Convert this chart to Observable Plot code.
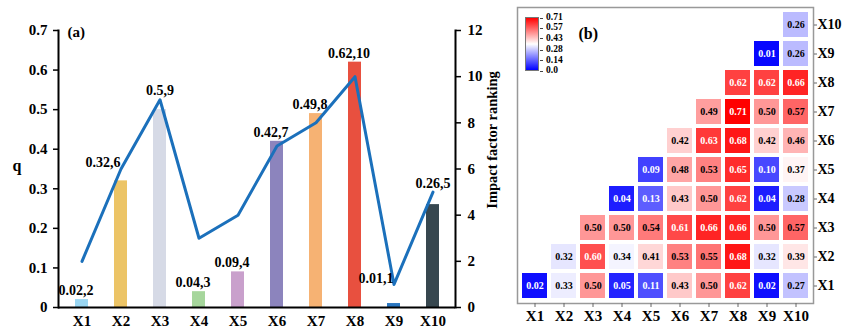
<!DOCTYPE html>
<html>
<head>
<meta charset="utf-8">
<script src="https://cdn.jsdelivr.net/npm/d3@7"></script>
<script src="https://cdn.jsdelivr.net/npm/@observablehq/plot@0.6"></script>
<style>
  body { margin: 0; background: white; }
  #wrap { position: relative; width: 842px; height: 329px; overflow: hidden; background: white;
          font-family: 'Liberation Serif', 'Times New Roman', serif; font-weight: bold; }
  #left { position: absolute; left: 0; top: 0; }
  #right { position: absolute; left: 500px; top: 0; }
  .lg { position: absolute; font-size: 9.5px; line-height: 1; color: black; }
</style>
</head>
<body>
<div id="wrap">
  <div id="left"></div>
  <div id="right"></div>
</div>
<script>
// ---------- data ----------
const names = ["X1", "X2", "X3", "X4", "X5", "X6", "X7", "X8", "X9", "X10"];
const qValues = [0.02, 0.32, 0.5, 0.04, 0.09, 0.42, 0.49, 0.62, 0.01, 0.26];
const rankValues = [2, 6, 9, 3, 4, 7, 8, 10, 1, 5];
const barColors = ["#9ad6f2", "#ecc466", "#d6dae6", "#a6d69c", "#c9a0cc",
                   "#8c84bd", "#f6b273", "#e8503f", "#2a76c0", "#37474f"];
const qTicks = [0, 0.1, 0.2, 0.3, 0.4, 0.5, 0.6, 0.7];
const rankTicks = [0, 2, 4, 6, 8, 10, 12];
const qMax = 0.7;
const rankMax = 12;

// interaction q values: row Xi lists columns Xi..X10
const interactionRows = [
  [0.02, 0.33, 0.50, 0.05, 0.11, 0.43, 0.50, 0.62, 0.02, 0.27], // X1
  [0.32, 0.60, 0.34, 0.41, 0.53, 0.55, 0.68, 0.32, 0.39],       // X2
  [0.50, 0.50, 0.54, 0.61, 0.66, 0.66, 0.50, 0.57],             // X3
  [0.04, 0.13, 0.43, 0.50, 0.62, 0.04, 0.28],                   // X4
  [0.09, 0.48, 0.53, 0.65, 0.10, 0.37],                         // X5
  [0.42, 0.63, 0.68, 0.42, 0.46],                               // X6
  [0.49, 0.71, 0.50, 0.57],                                     // X7
  [0.62, 0.62, 0.66],                                           // X8
  [0.01, 0.26],                                                 // X9
  [0.26]                                                        // X10
];
const legendTicks = [0.0, 0.14, 0.28, 0.43, 0.57, 0.71];
const legendLabels = ["0.0", "0.14", "0.28", "0.43", "0.57", "0.71"];
const colorDomain = [0, 0.355, 0.71];
const colorRange = ["#0000ff", "#ffffff", "#ff0000"];

// ---------- left chart ----------
const data = names.map((name, i) => ({
  name, q: qValues[i], rank: rankValues[i], color: barColors[i],
  rankQ: rankValues[i] * qMax / rankMax,
  prevRank: i > 0 ? rankValues[i - 1] : null,
  nextRank: i < names.length - 1 ? rankValues[i + 1] : null
}));
data.forEach(d => {
  d.onLine = d.rankQ > d.q && d.rankQ - d.q < 0.05;
  d.label = `${d.q},${d.rank}`;
});
const atBar = data.filter(d => !d.onLine);
const atPeak = data.filter(d => d.onLine && d.prevRank < d.rank && (d.nextRank === null || d.nextRank < d.rank));
const atSlope = data.filter(d => d.onLine && !atPeak.includes(d));

const font = "'Liberation Serif', 'Times New Roman', serif";

const left = Plot.plot({
  width: 510, height: 329,
  marginLeft: 58, marginRight: 55, marginTop: 30, marginBottom: 22,
  style: { fontFamily: font, fontWeight: "bold", fontSize: "14px", background: "white", color: "black", overflow: "visible" },
  x: { domain: names, paddingInner: 0.67, paddingOuter: 0.335 },
  y: { domain: [0, qMax] },
  color: { type: "identity" },
  marks: [
    Plot.barY(data, { x: "name", y: "q", fill: "color" }),
    Plot.line(data, { x: "name", y: "rankQ", stroke: "#1b70bb", strokeWidth: 3 }),
    Plot.ruleY([0], { stroke: "black", strokeWidth: 2 }),
    Plot.frame({ anchor: "left", stroke: "black", strokeWidth: 2 }),
    Plot.frame({ anchor: "right", stroke: "black", strokeWidth: 2 }),
    Plot.axisX({ tickSize: 0, tickPadding: 8, fontSize: 15, label: null }),
    Plot.axisY(qTicks, { anchor: "left", tickSize: 5, tickPadding: 6, fontSize: 15, strokeWidth: 1.5,
      tickFormat: v => v === 0 ? "0" : v.toFixed(1), label: null }),
    Plot.axisY(rankTicks.map(r => r * qMax / rankMax), { anchor: "right", tickSize: 5, tickPadding: 7, fontSize: 15, strokeWidth: 1.5,
      tickFormat: v => String(Math.round(v * rankMax / qMax)), label: null }),
    Plot.text(atBar, { x: "name", y: "q", text: "label", dy: -9, dx: -6, fontSize: 14, fill: "black" }),
    Plot.text(atPeak, { x: "name", y: "rankQ", text: "label", dy: -9, dx: 0, fontSize: 14, fill: "black" }),
    Plot.text(atSlope, { x: "name", y: "rankQ", text: "label", dy: -6, dx: -18, fontSize: 14, fill: "black" }),
    Plot.text(["q"], { frameAnchor: "left", dx: -46, dy: -3, textAnchor: "start", fontSize: 16, fill: "black" }),
    Plot.text(["Impact factor ranking"], { frameAnchor: "right", dx: 37, dy: -29, rotate: -90, textAnchor: "middle", fontSize: 14.5, fill: "black" }),
    Plot.text(["(a)"], { frameAnchor: "top-left", dx: 9, dy: -4, textAnchor: "start", fontSize: 15, fill: "black" })
  ]
});
document.getElementById("left").appendChild(left);

// ---------- right chart (heatmap) ----------
const cells = [];
interactionRows.forEach((row, r) => {
  row.forEach((v, k) => cells.push({ row: names[r], col: names[r + k], v }));
});
const isWhite = d => d.v >= 0.595 || d.v <= 0.15;

const right = Plot.plot({
  width: 342, height: 329,
  marginLeft: 17, marginRight: 29, marginTop: 7, marginBottom: 26,
  style: { fontFamily: font, fontWeight: "bold", fontSize: "15px", background: "transparent", color: "black", overflow: "visible" },
  x: { domain: names, padding: 0 },
  y: { domain: names.slice().reverse(), padding: 0 },
  color: { type: "linear", domain: colorDomain, range: colorRange },
  marks: [
    Plot.cell(cells, { x: "col", y: "row", fill: "v", inset: 2 }),
    Plot.text(cells.filter(isWhite), { x: "col", y: "row", text: d => d.v.toFixed(2), fill: "white", fontSize: 10 }),
    Plot.text(cells.filter(d => !isWhite(d)), { x: "col", y: "row", text: d => d.v.toFixed(2), fill: "black", fontSize: 10 }),
    Plot.frame({ stroke: "#999", strokeWidth: 1.5 }),
    Plot.axisX({ anchor: "bottom", tickSize: 4, tickPadding: 3, fontSize: 15, label: null, stroke: "#666" }),
    Plot.axisY({ anchor: "right", tickSize: 3, tickPadding: 1, fontSize: 14, label: null, stroke: "#666" }),
    Plot.text(["(b)"], { frameAnchor: "top-left", dx: 61, dy: 20, textAnchor: "start", fontSize: 16, fill: "black" })
  ]
});
document.getElementById("right").appendChild(right);

// ---------- colour bar legend (inside heatmap frame) ----------
const wrap = document.getElementById("wrap");
const barTop = 17, barBottom = 71;
const bar = document.createElement("div");
bar.style.cssText = `position:absolute;left:525px;top:${barTop}px;width:14px;height:${barBottom - barTop}px;` +
  `background:linear-gradient(to top, ${colorRange.join(",")});border:1px solid #777;box-sizing:border-box;`;
wrap.appendChild(bar);
const ly = d3.scaleLinear().domain([0, 0.71]).range([barBottom, barTop + 1]);
legendTicks.forEach((t, i) => {
  const tick = document.createElement("div");
  tick.style.cssText = `position:absolute;left:540px;top:${ly(t) - 0.5}px;width:3px;height:1px;background:#444;`;
  wrap.appendChild(tick);
  const lab = document.createElement("div");
  lab.className = "lg";
  lab.textContent = legendLabels[i];
  lab.style.left = "546px";
  lab.style.top = (ly(t) - 5) + "px";
  wrap.appendChild(lab);
});
</script>
</body>
</html>
